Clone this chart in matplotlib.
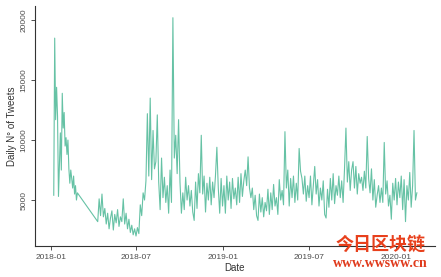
import numpy as np
import pandas as pd
import matplotlib
matplotlib.use("Agg")
import matplotlib.pyplot as plt

plt.rcParams['font.family'] = ['Liberation Sans', 'DejaVu Sans']

# early 2018, every 2 days
early_start = '2018-01-07'
early_vals = [5400, 18500, 11700, 14400, 12000, 5300, 8000, 10600, 7500, 13900,
              11000, 12300, 9500, 10200, 8800, 10000, 7600, 6400, 7500, 6800,
              6000, 7000, 5500, 6200, 5000, 5600]

# after the data gap, every 3 days
late_start = '2018-04-10'
late_vals = [
    # apr 2018
    3200, 5100, 3700, 5500, 3600, 4300, 3000,
    # may
    3900, 2600, 3500, 4100, 2500, 3800, 3100, 4200, 2800, 3600, 3200,
    # jun
    5100, 3000, 3900, 2600, 3400, 2300, 2900, 2100, 2600, 2000,
    # jul
    2700, 2200, 4600, 3700, 5600, 5000, 6600, 12200, 7000, 13500,
    # aug
    6700, 10800, 7600, 8200, 12100, 6500, 4200, 8500, 5200, 6900,
    # sep
    4800, 6200, 3900, 7500, 4800, 20200, 8500, 10400, 7200, 11700,
    # oct
    6500, 3900, 5600, 4200, 6900, 5000, 6200, 4500, 5800, 4000, 3300,
    # nov
    6500, 4300, 7200, 5600, 10400, 5500, 7000, 4000, 6400, 5000,
    # dec
    6900, 4600, 6500, 5200, 7000, 9400, 6000, 3900, 6800, 4500,
    # jan 2019
    6200, 3900, 7000, 5000, 6500, 4300, 6800, 5100, 6000, 4600,
    # feb
    6900, 4800, 7200, 5300, 6600, 7500, 6200, 8600, 6000, 5200,
    # mar
    6000, 4200, 5400, 3700, 3300, 5500, 4000, 5200, 3600, 4800,
    # apr
    4100, 5900, 3800, 5600, 4200, 6300, 4500, 5200, 3800, 6700,
    # may
    5000, 5800, 4600, 10700, 6000, 7500, 4500, 6800, 5200, 7000,
    # jun
    4800, 6400, 5000, 9300, 7400, 6800, 5500, 7000, 4900, 6200,
    # jul
    5200, 7000, 4600, 6200, 7800, 5500, 6700, 4500, 6000, 5000, 6600,
    # aug
    3800, 3500, 5900, 4400, 6800, 5000, 7200, 4700, 6200, 5400,
    # sep
    7000, 5200, 6600, 4800, 7600, 11000, 6500, 8200, 5800, 7500,
    # oct
    8200, 6000, 7800, 5500, 7200, 6400, 6900, 5800, 7400, 6000,
    # nov
    10300, 6800, 5600, 7600, 5000, 6700, 4400, 5400, 6200, 4800,
    # dec
    6000, 4800, 9800, 5500, 6600, 4500, 5400, 3400, 6400, 5000, 6800,
    # jan 2020
    4600, 6500, 5200, 7000, 4200, 6700, 3200, 6200, 5000, 7300,
    # feb
    4400, 6200, 10800, 5000, 5600,
]

tick_dates = ['2018-01-01', '2018-07-01', '2019-01-01', '2019-07-01', '2020-01-01']
tick_labels = ['2018-01', '2018-07', '2019-01', '2019-07', '2020-01']
y_ticks = [5000, 10000, 15000, 20000]

dates = list(pd.date_range(early_start, periods=len(early_vals), freq='2D')) + \
        list(pd.date_range(late_start, periods=len(late_vals), freq='3D'))
vals = early_vals + late_vals

fig = plt.figure(figsize=(4.41, 2.77), dpi=100)
ax = fig.add_axes([0.079, 0.112, 0.907, 0.866])
ax.plot(dates, vals, color='#66c2a5', lw=0.8)

ax.set_xlim(pd.Timestamp('2017-11-28'), pd.Timestamp('2020-03-23'))
ax.set_ylim(1170, 21170)
ax.set_xticks(pd.to_datetime(tick_dates))
ax.set_xticklabels(tick_labels)
ax.set_yticks(y_ticks)
ax.set_yticklabels([str(v) for v in y_ticks], rotation=90, va='center')
ax.tick_params(labelsize=6, length=3, width=0.6, color='#333333', labelcolor='#4d4d4d', pad=2.5)

for s in ['top', 'right']:
    ax.spines[s].set_visible(False)
for s in ['left', 'bottom']:
    ax.spines[s].set_linewidth(0.8)
    ax.spines[s].set_color('#333333')

ax.set_xlabel('Date', fontsize=7, color='#333333', labelpad=1.5)
ax.set_ylabel('Daily N° of Tweets', fontsize=7, color='#333333', labelpad=2)

# watermark
fig.text(0.863, 0.12, '今日区块链', fontsize=13, color='#e8401c', fontweight='bold',
         family=['Noto Sans CJK SC', 'DejaVu Sans'], ha='center', va='center')
fig.text(0.863, 0.05, 'www.wwsww.cn', fontsize=10, color='#e03a1c', fontweight='bold',
         family=['Liberation Serif', 'DejaVu Serif'], ha='center', va='center')

fig.savefig('out.png', dpi=100)
